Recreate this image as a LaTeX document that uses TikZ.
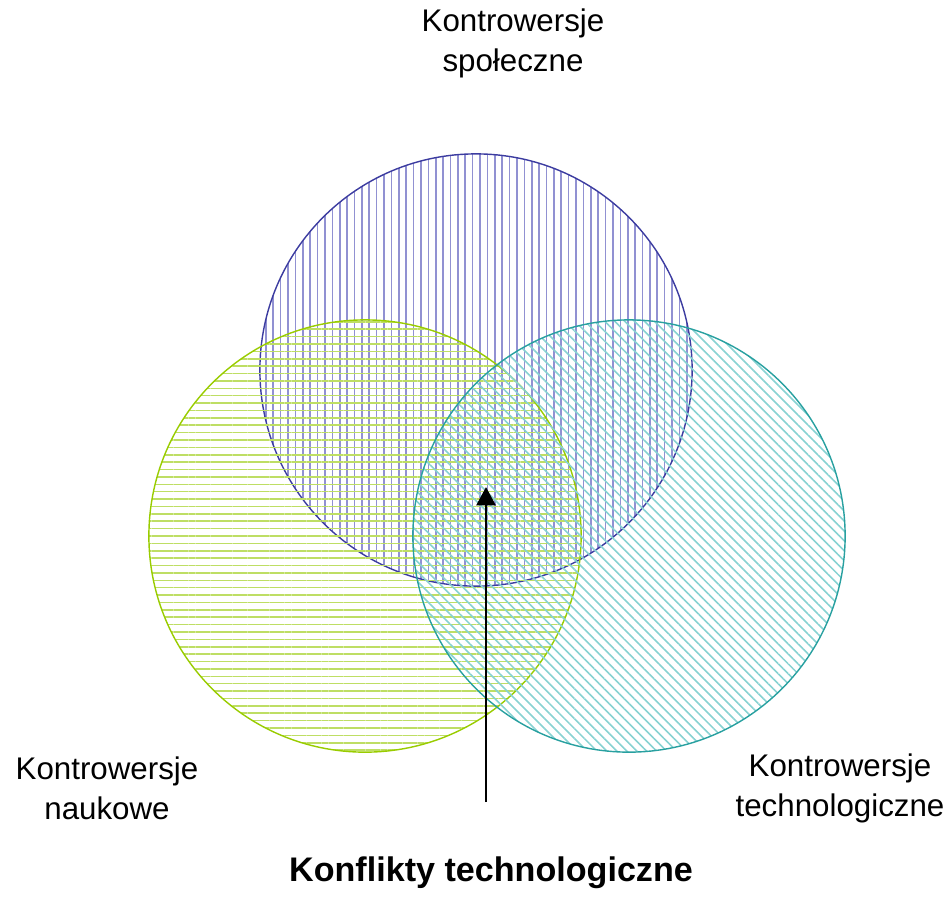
\documentclass[tikz,border=0pt]{standalone}
\usepackage{fontspec}
\setmainfont{Liberation Sans}
\usetikzlibrary{patterns.meta,arrows.meta}

\definecolor{niebieski}{RGB}{60,60,160}
\definecolor{niebieskiJ}{RGB}{145,145,210}
\definecolor{zielony}{RGB}{153,204,0}
\definecolor{zielonyJ}{RGB}{190,222,100}
\definecolor{morski}{RGB}{40,160,160}
\definecolor{morskiJ}{RGB}{135,210,210}

\tikzset{
  kolo/.style={circle, minimum size=4.32cm, inner sep=0pt, line width=0.4pt},
  etykieta/.style={align=center, font=\fontsize{8.9}{11.4}\selectfont}
}

\begin{document}
\begin{tikzpicture}[>={Triangle[width=5.4pt,length=5.2pt]}, x=0.01cm, y=-0.01cm]
\useasboundingbox (0,0) rectangle (952,920);
% trzy kola, kazde z innym kreskowaniem
\node[kolo, draw=niebieski, pattern={Lines[angle=90,distance=2.1pt,line width=0.45pt]}, pattern color=niebieskiJ] (spol) at (476,370) {};
\node[kolo, draw=zielony, pattern={Lines[angle=0,distance=2.1pt,line width=0.45pt]}, pattern color=zielonyJ] (nauk) at (365,536) {};
\node[kolo, draw=morski, pattern={Lines[angle=-45,distance=2.0pt,line width=0.45pt]}, pattern color=morskiJ] (tech) at (629,536) {};
% podpisy
\node[etykieta] (tSpol) at (513,43) {Kontrowersje\\społeczne};
\node[etykieta] (tNauk) at (107,788) {Kontrowersje\\naukowe};
\node[etykieta] (tTech) at (840,788) {Kontrowersje\\technologiczne};
\node[font=\fontsize{9.7}{12}\selectfont\bfseries] (konf) at (491,873) {Konflikty technologiczne};
% strzalka do czesci wspolnej
\coordinate (dol) at (486,802);
\coordinate (srodek) at (486,487);
\draw[->, line width=0.7pt] (dol) -- (srodek);
\end{tikzpicture}
\end{document}
